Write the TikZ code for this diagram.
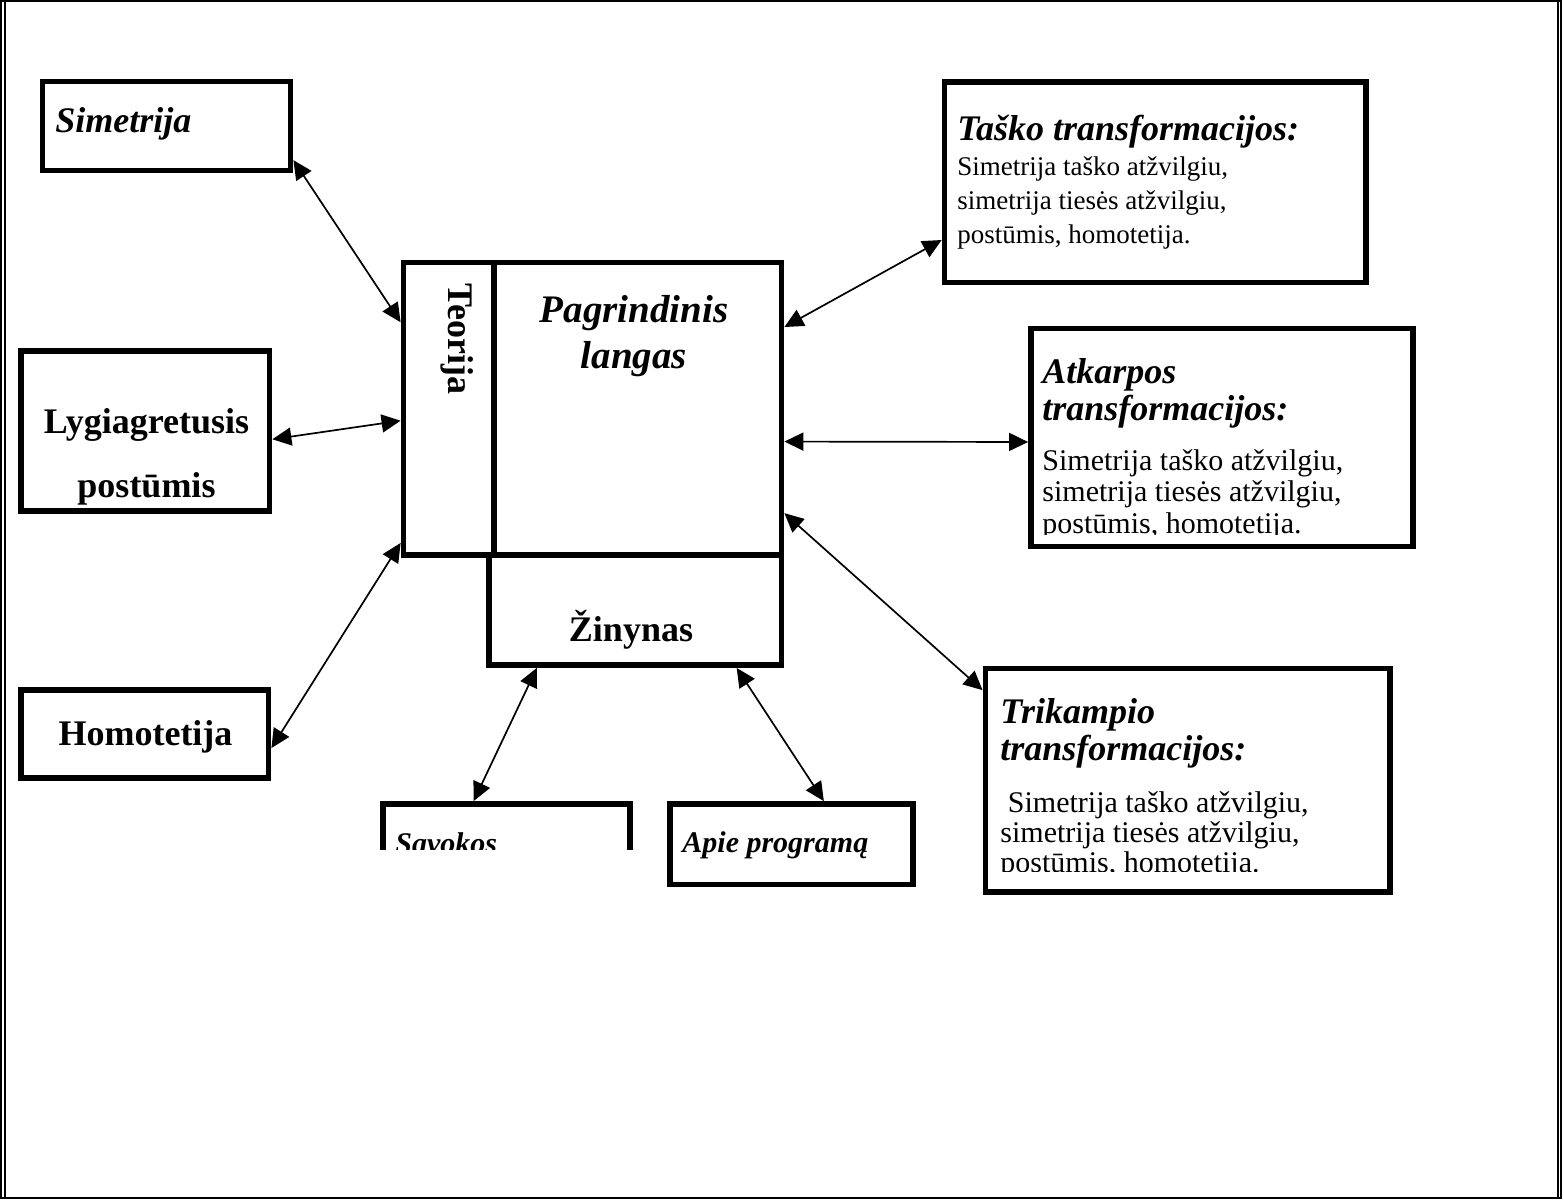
\documentclass[tikz,border=0pt]{standalone}
\usepackage{fontspec}
\setmainfont{Liberation Serif}
\usetikzlibrary{arrows.meta,calc}
\begin{document}
\begin{tikzpicture}[x=0.5pt,y=-0.5pt,
  box/.style={draw, line width=2.9pt, inner sep=0pt, rectangle},
  lnk/.style={{Triangle[length=9.5pt,width=9pt]}-{Triangle[length=9.5pt,width=9pt]}, line width=0.85pt},
  hd/.style={font=\fontsize{18}{18}\selectfont\bfseries\itshape, inner sep=0pt, anchor=base west},
  hdc/.style={font=\fontsize{18}{18}\selectfont\bfseries, inner sep=0pt, anchor=base},
  sm/.style={font=\fontsize{15}{15}\selectfont\bfseries\itshape, inner sep=0pt, anchor=base west},
  bd/.style={font=\fontsize{15}{15}\selectfont, inner sep=0pt, anchor=base west},
  bds/.style={font=\fontsize{13.5}{13.5}\selectfont, inner sep=0pt, anchor=base west},
  frame/.style={line width=1pt}]
\useasboundingbox (0,0) rectangle (1564,1201);
% page border
\draw[frame] (1,1) rectangle (1561,1198);
\draw[frame] (5,1) -- (5,1198);
\draw[frame] (1557.5,1) -- (1557.5,1198);

% boxes
\node[box, minimum width=124pt, minimum height=44.5pt] (sim) at (166.5,126) {};
\node[box, minimum width=124.25pt, minimum height=80pt] (lyg) at (145.25,431) {};
\node[box, minimum width=123.75pt, minimum height=44pt] (hom) at (144.75,734) {};
\node[box, minimum width=45.25pt, minimum height=146.25pt] (teo) at (448.75,408.75) {};
\node[box, minimum width=143.75pt, minimum height=146.25pt] (pag) at (637.75,408.75) {};
\node[box, minimum width=146.25pt, minimum height=55pt] (zin) at (635.25,610) {};
\node[box, minimum width=210.75pt, minimum height=100.25pt] (tas) at (1155.25,182.25) {};
\node[box, minimum width=191pt, minimum height=109pt] (atk) at (1222,437.5) {};
\node[box, minimum width=202.25pt, minimum height=111.75pt] (tri) at (1187.75,780.25) {};
\node[box, minimum width=121.5pt, minimum height=40.25pt] (apie) at (791.5,844.25) {};
\begin{scope}
  \clip (370,780) rectangle (650,849);
  \node[box, minimum width=123.5pt, minimum height=48pt] (sav) at (506.5,852) {};
  \node[sm] (savt) at (395,853) {Savokos};
\end{scope}

% texts
\node[hd] (simt) at (55,132) {Simetrija};
\node[hdc] (lygt1) at (146.5,433) {Lygiagretusis};
\node[hdc] (lygt2) at (146.5,497) {postūmis};
\node[hdc] (homt) at (145.5,745) {Homotetija};
\node[font=\fontsize{18}{18}\selectfont\bfseries, inner sep=0pt, anchor=base west, rotate=-90] (teot) at (448,283) {Teorija};
\node[font=\fontsize{19.5}{19.5}\selectfont\bfseries\itshape, inner sep=0pt, anchor=base] (pagt1) at (634,322) {Pagrindinis};
\node[font=\fontsize{19.5}{19.5}\selectfont\bfseries\itshape, inner sep=0pt, anchor=base] (pagt2) at (634,368) {langas};
\node[hdc] (zint) at (631,641) {Žinynas};
\node[sm] (apiet) at (682,852) {Apie programą};

\node[hd] (tast1) at (957,140) {Taško transformacijos:};
\node[bds] (tast2) at (957,175) {Simetrija taško atžvilgiu,};
\node[bds] (tast3) at (957,209) {simetrija tiesės atžvilgiu,};
\node[bds] (tast4) at (957,243) {postūmis, homotetija.};

\begin{scope}
  \clip (1031,330) rectangle (1413,534);
  \node[hd] (atkt1) at (1042,383) {Atkarpos};
  \node[hd] (atkt2) at (1042,420) {transformacijos:};
  \node[bd] (atkt3) at (1042,470) {Simetrija taško atžvilgiu,};
  \node[bd] (atkt4) at (1042,501) {simetrija tiesės atžvilgiu,};
  \node[bd] (atkt5) at (1042,533) {postūmis, homotetija.};
\end{scope}

\begin{scope}
  \clip (985,670) rectangle (1390,871.5);
  \node[hd] (trit1) at (1000,723) {Trikampio};
  \node[hd] (trit2) at (1000,760) {transformacijos:};
  \node[bd] (trit3) at (1000,812) {\ Simetrija taško atžvilgiu,};
  \node[bd] (trit4) at (1000,842) {simetrija tiesės atžvilgiu,};
  \node[bd] (trit5) at (1000,872) {postūmis, homotetija.};
\end{scope}

% connectors
\draw[lnk] ($(sim.north east)!0.86!(sim.south east)$) -- ($(teo.north west)!0.21!(teo.south west)$);
\draw[lnk] ($(lyg.north east)!0.55!(lyg.south east)$) -- ($(teo.north west)!0.54!(teo.south west)$);
\draw[lnk] ($(hom.north east)!0.65!(hom.south east)$) -- ($(teo.north west)!0.95!(teo.south west)$);
\draw[lnk] ($(pag.north east)!0.226!(pag.south east)$) -- ($(tas.north west)!0.78!(tas.south west)$);
\draw[lnk] ($(pag.north east)!0.61!(pag.south east)$) -- ($(atk.north west)!0.52!(atk.south west)$);
\draw[lnk] ($(pag.north east)!0.85!(pag.south east)$) -- ($(tri.north west)!0.107!(tri.south west)$);
\draw[lnk] ($(zin.south west)!0.17!(zin.south east)$) -- ($(sav.north west)!0.37!(sav.north east)$);
\draw[lnk] ($(zin.south west)!0.84!(zin.south east)$) -- ($(apie.north west)!0.63!(apie.north east)$);
\end{tikzpicture}
\end{document}
